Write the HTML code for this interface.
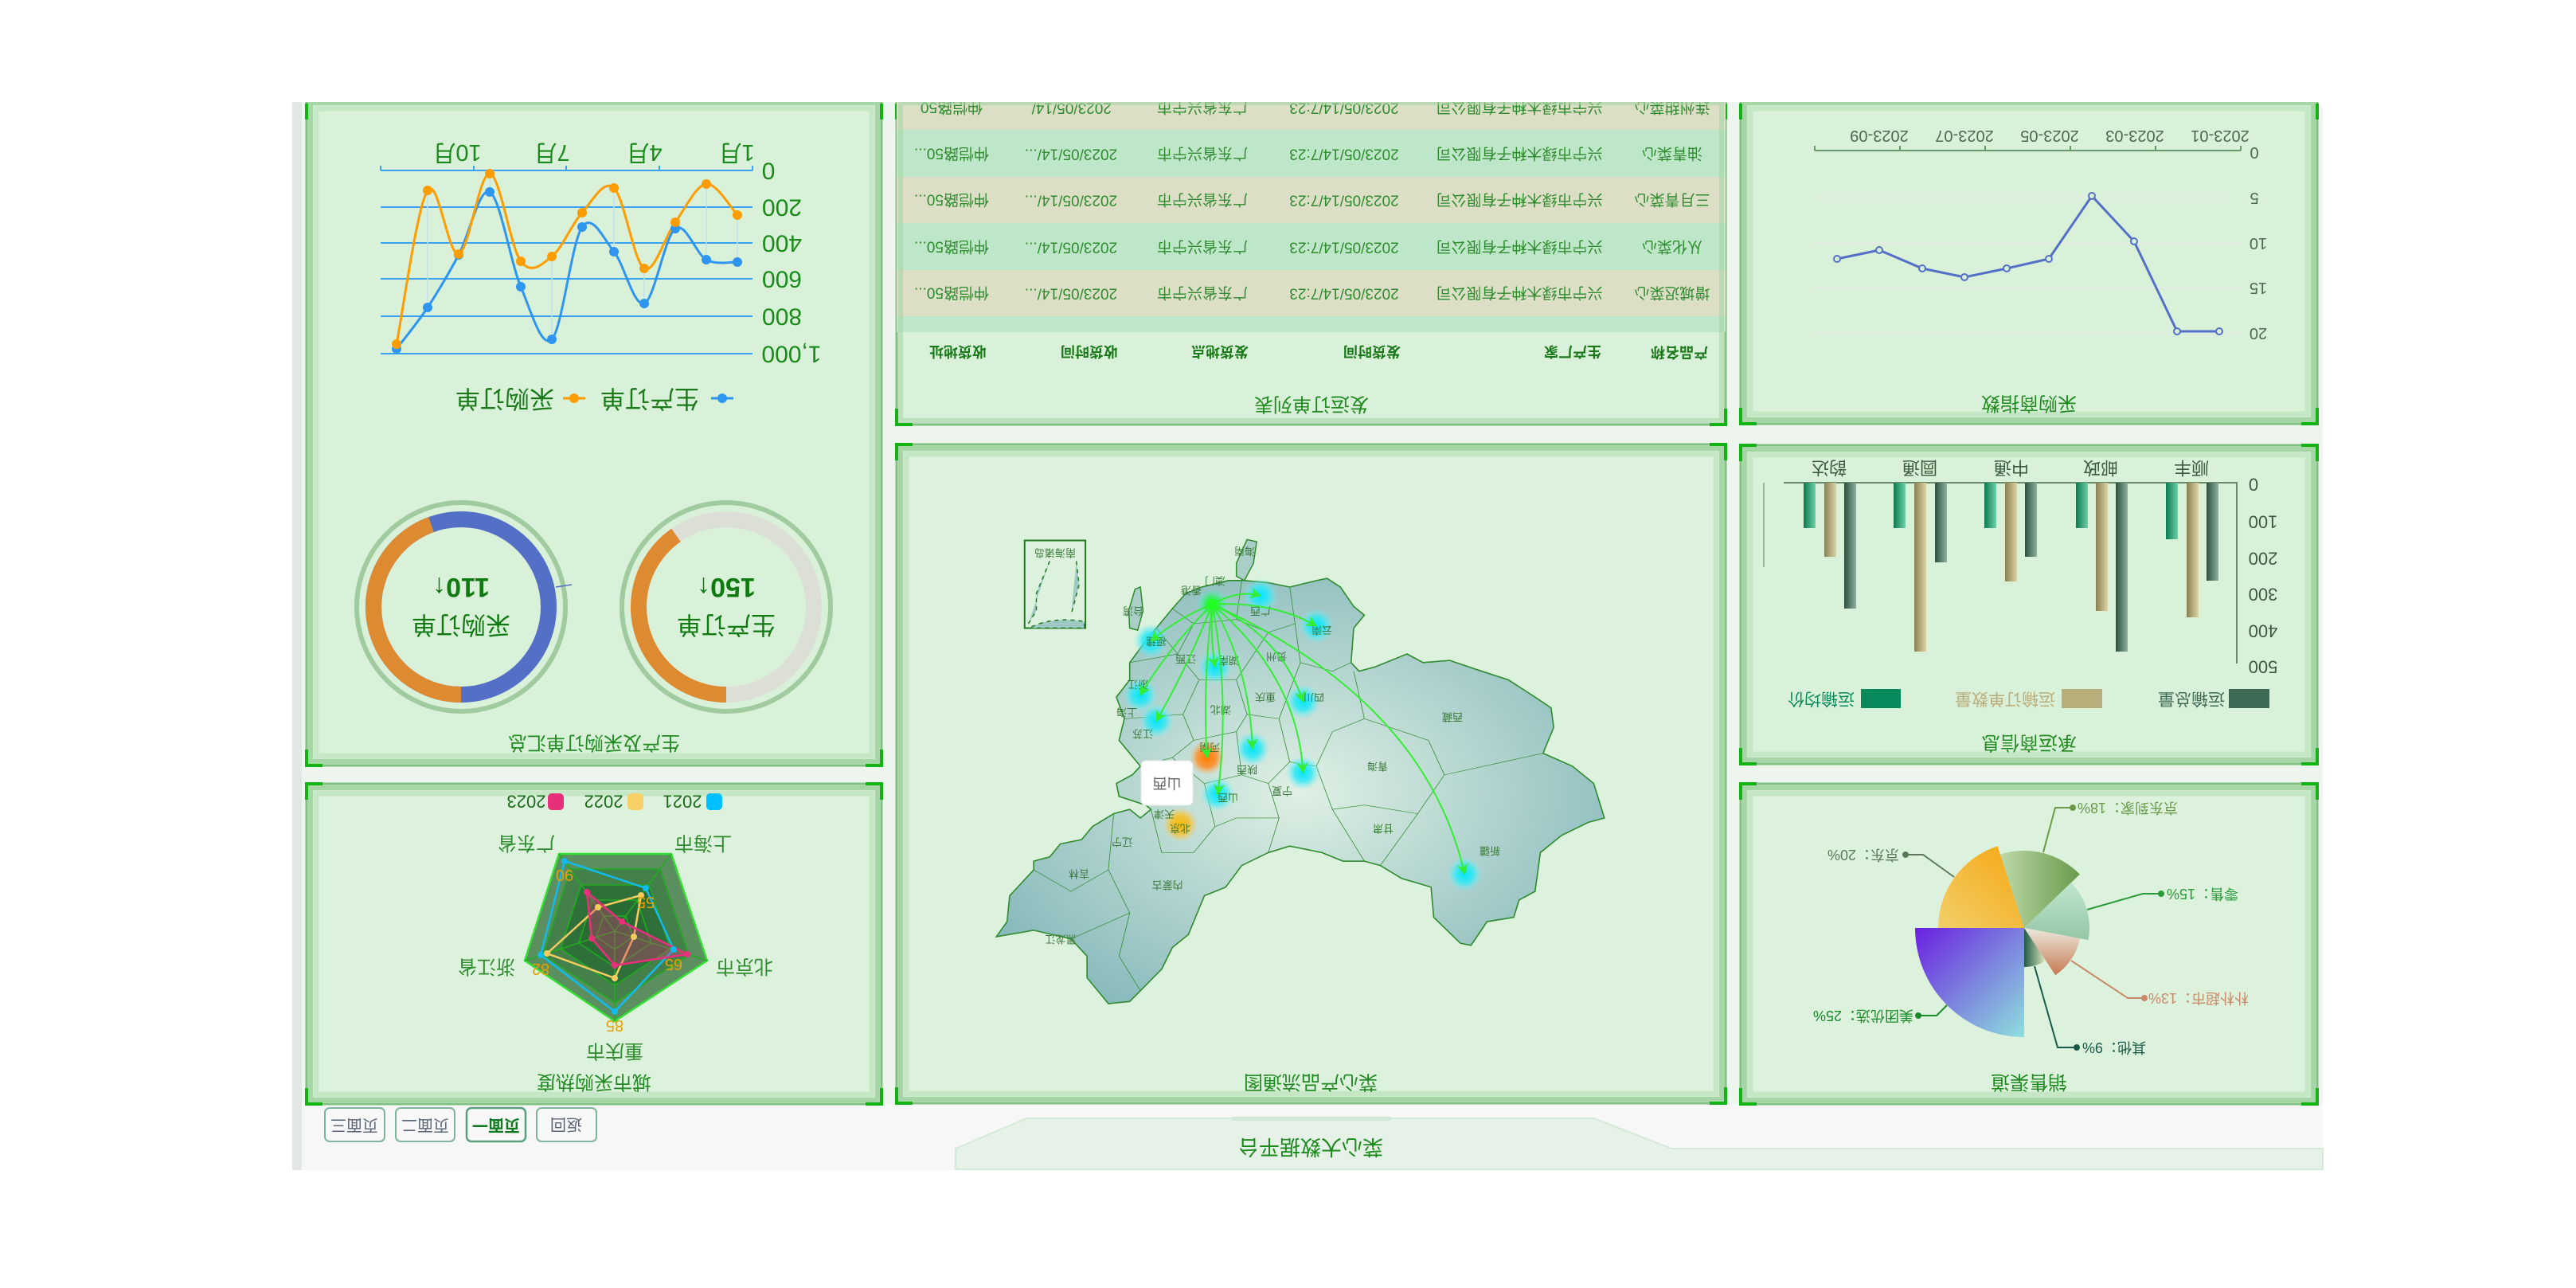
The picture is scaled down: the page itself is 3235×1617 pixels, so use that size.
<!DOCTYPE html>
<html><head><meta charset="utf-8">
<style>
html,body{margin:0;padding:0;background:#fff;}
svg{display:block;}
.t{transform-box:fill-box;transform-origin:center;transform:rotate(180deg);text-anchor:middle;dominant-baseline:central;font-family:"Liberation Sans","Noto Sans CJK SC",sans-serif;}
.tt{font-size:24px;fill:#1f8a1f;}
.tb{font-size:19px;fill:#2e8b2e;}
.th{font-size:18px;fill:#1a7a1a;font-weight:bold;}
.ml{font-size:13px;fill:#3a7a3a;}
</style></head><body>
<svg width="3235" height="1617" viewBox="0 0 3235 1617" xmlns="http://www.w3.org/2000/svg">
<defs>
<radialGradient id="mapg" cx="50%" cy="50%" r="60%"><stop offset="0" stop-color="#e0f0e4"/><stop offset="1" stop-color="#86b9bb"/></radialGradient>
<radialGradient id="glc"><stop offset="0" stop-color="#00e5ff"/><stop offset="0.5" stop-color="#30e8f5" stop-opacity="0.85"/><stop offset="1" stop-color="#7ff0f5" stop-opacity="0"/></radialGradient>
<radialGradient id="glo"><stop offset="0" stop-color="#ff7a00"/><stop offset="0.55" stop-color="#ff8a20" stop-opacity="0.85"/><stop offset="1" stop-color="#ffb060" stop-opacity="0"/></radialGradient>
<radialGradient id="gly"><stop offset="0" stop-color="#f5b800"/><stop offset="0.55" stop-color="#f5c030" stop-opacity="0.85"/><stop offset="1" stop-color="#f5d070" stop-opacity="0"/></radialGradient>
<radialGradient id="glg"><stop offset="0" stop-color="#00ff20"/><stop offset="0.5" stop-color="#30f060" stop-opacity="0.8"/><stop offset="1" stop-color="#60f0f0" stop-opacity="0"/></radialGradient>
<linearGradient id="pmt" x1="0" y1="0" x2="1" y2="1"><stop offset="0" stop-color="#6a1fe0"/><stop offset="1" stop-color="#8ee0de"/></linearGradient>
<linearGradient id="pjd" x1="0" y1="1" x2="1" y2="0"><stop offset="0" stop-color="#f2cf6a"/><stop offset="1" stop-color="#f6a611"/></linearGradient>
<linearGradient id="pdj" x1="0" y1="0" x2="1" y2="0"><stop offset="0" stop-color="#bcd8a6"/><stop offset="1" stop-color="#6a9a4c"/></linearGradient>
<linearGradient id="pls" x1="0" y1="0" x2="0" y2="1"><stop offset="0" stop-color="#bfe6cf"/><stop offset="1" stop-color="#94c7a6"/></linearGradient>
<linearGradient id="ppp" x1="0" y1="0" x2="0" y2="1"><stop offset="0" stop-color="#ece8dc"/><stop offset="1" stop-color="#c67a52"/></linearGradient>
<linearGradient id="pqt" x1="0" y1="0" x2="1" y2="0"><stop offset="0" stop-color="#1f5a46"/><stop offset="1" stop-color="#e4ecc0"/></linearGradient>
<linearGradient id="bt" x1="0" y1="0" x2="1" y2="0"><stop offset="0" stop-color="#0a7a50"/><stop offset="1" stop-color="#6ed0a8"/></linearGradient>
<linearGradient id="bn" x1="0" y1="0" x2="1" y2="0"><stop offset="0" stop-color="#8a8050"/><stop offset="1" stop-color="#dcd4a6"/></linearGradient>
<linearGradient id="bd" x1="0" y1="0" x2="1" y2="0"><stop offset="0" stop-color="#2a5040"/><stop offset="1" stop-color="#90b0a0"/></linearGradient>
<marker id="ar" viewBox="0 0 10 10" refX="9" refY="5" markerWidth="7" markerHeight="7" orient="auto-start-reverse"><path d="M0,0 L10,5 L0,10 L3,5 Z" fill="#33ee33"/></marker>
<clipPath id="cB"><rect x="1126" y="128" width="1041" height="405"/></clipPath>
</defs>

<rect x="367" y="128" width="2550" height="1341" rx="12" fill="#eef4ee"/>
<rect x="367" y="128" width="12" height="1341" fill="#e3e7e4"/>
<rect x="379" y="1386" width="2538" height="83" fill="#f6f7f6"/>
<path d="M1200,1442 L1289,1404 L2002,1404 L2099,1442 L2917,1442 L2917,1468 L1200,1468 Z" fill="#e6f1e8" stroke="#d4ead8" stroke-width="2"/>
<rect x="1547" y="1402" width="200" height="5" fill="#d2e8d6"/>
<text class="t" x="1646" y="1440" style="font-size:26px;fill:#1a8a1a">菜心大数据平台</text>

<g>
<rect x="408" y="1391" width="75" height="42" rx="6" fill="#f7f8f7" stroke="#7fb49c" stroke-width="2"/>
<text class="t" x="445" y="1412" style="font-size:20px;fill:#5a6478">页面三</text>
<rect x="497" y="1391" width="74" height="42" rx="6" fill="#f7f8f7" stroke="#7fb49c" stroke-width="2"/>
<text class="t" x="534" y="1412" style="font-size:20px;fill:#5a6478">页面二</text>
<rect x="586" y="1391" width="74" height="42" rx="6" fill="#f7f8f7" stroke="#5aa07c" stroke-width="2.5"/>
<text class="t" x="623" y="1412" style="font-size:20px;fill:#0f7a1f;font-weight:bold">页面一</text>
<rect x="674" y="1391" width="75" height="42" rx="6" fill="#f7f8f7" stroke="#7fb49c" stroke-width="2"/>
<text class="t" x="711" y="1412" style="font-size:20px;fill:#5a6478">返回</text>
</g>

<g id="panels">
<g>
<rect x="385" y="124" width="722" height="837" fill="#daf1d9" stroke="#80c080" stroke-width="3"/>
<rect x="390" y="129" width="712" height="827" fill="none" stroke="#a6d6a6" stroke-width="6"/>
<rect x="397" y="136" width="698" height="813" fill="none" stroke="#c6e7c5" stroke-width="7"/>
</g>
<g>
<rect x="1126" y="124" width="1041" height="409" fill="#daf1d9" stroke="#80c080" stroke-width="3"/>
</g>
<g>
<rect x="2186" y="124" width="724" height="408" fill="#daf1d9" stroke="#80c080" stroke-width="3"/>
<rect x="2191" y="129" width="714" height="398" fill="none" stroke="#a6d6a6" stroke-width="6"/>
<rect x="2198" y="136" width="700" height="384" fill="none" stroke="#c6e7c5" stroke-width="7"/>
</g>
<g>
<rect x="1126" y="558" width="1041" height="827" fill="#dcf2dc" stroke="#80c080" stroke-width="3"/>
<rect x="1131" y="563" width="1031" height="817" fill="none" stroke="#a6d6a6" stroke-width="6"/>
<rect x="1138" y="570" width="1017" height="803" fill="none" stroke="#c6e7c5" stroke-width="7"/>
</g>
<g>
<rect x="2186" y="559" width="724" height="400" fill="#daf1d9" stroke="#80c080" stroke-width="3"/>
<rect x="2191" y="564" width="714" height="390" fill="none" stroke="#a6d6a6" stroke-width="6"/>
<rect x="2198" y="571" width="700" height="376" fill="none" stroke="#c6e7c5" stroke-width="7"/>
</g>
<g>
<rect x="385" y="984" width="722" height="402" fill="#dcf2dc" stroke="#80c080" stroke-width="3"/>
<rect x="390" y="989" width="712" height="392" fill="none" stroke="#a6d6a6" stroke-width="6"/>
<rect x="397" y="996" width="698" height="378" fill="none" stroke="#c6e7c5" stroke-width="7"/>
</g>
<g>
<rect x="2186" y="984" width="724" height="402" fill="#dcf2dc" stroke="#80c080" stroke-width="3"/>
<rect x="2191" y="989" width="714" height="392" fill="none" stroke="#a6d6a6" stroke-width="6"/>
<rect x="2198" y="996" width="700" height="378" fill="none" stroke="#c6e7c5" stroke-width="7"/>
</g>
</g>
<g stroke="#13b313" stroke-width="4" fill="none">
<path d="M385,150 V130 M1107,150 V130 M385,941 V961 H405 M1107,941 V961 H1087"/>
<path d="M1126,150 V130 M2167,150 V130 M1126,513 V533 H1146 M2167,513 V533 H2147"/>
<path d="M2186,150 V130 M2910,150 V130 M2186,512 V532 H2206 M2910,512 V532 H2890"/>
<path d="M1126,578 V558 H1146 M2167,578 V558 H2147 M1126,1365 V1385 H1146 M2167,1365 V1385 H2147"/>
<path d="M2186,579 V559 H2206 M2910,579 V559 H2890 M2186,939 V959 H2206 M2910,939 V959 H2890"/>
<path d="M385,1004 V984 H405 M1107,1004 V984 H1087 M385,1366 V1386 H405 M1107,1366 V1386 H1087"/>
<path d="M2186,1004 V984 H2206 M2910,1004 V984 H2890 M2186,1366 V1386 H2206 M2910,1366 V1386 H2890"/>
</g>

<!-- P1 -->
<g>
<g stroke="#3aa2f0" stroke-width="2">
<line x1="478" y1="260" x2="945" y2="260"/><line x1="478" y1="305" x2="945" y2="305"/>
<line x1="478" y1="350" x2="945" y2="350"/><line x1="478" y1="397" x2="945" y2="397"/>
<line x1="478" y1="444" x2="945" y2="444"/>
<line x1="478" y1="214" x2="945" y2="214"/>
<path d="M478,214 v-6 M595,214 v-6 M711,214 v-6 M828,214 v-6 M945,214 v-6"/>
</g>
<g stroke="#bfe2f2" stroke-width="1.5">
<line x1="537" y1="239" x2="537" y2="386"/><line x1="615" y1="218" x2="615" y2="241"/>
<line x1="693" y1="322" x2="693" y2="426"/><line x1="771" y1="236" x2="771" y2="316"/>
<line x1="809" y1="337" x2="809" y2="381"/><line x1="887" y1="231" x2="887" y2="326"/>
<line x1="926" y1="270" x2="926" y2="329"/>
</g>
<g style="font-size:29px;fill:#1a8a1a">
<text class="t" x="925" y="191">1月</text><text class="t" x="809" y="191">4月</text>
<text class="t" x="693" y="191">7月</text><text class="t" x="574" y="191">10月</text>
</g>
<g style="font-size:30px;fill:#1a8a1a">
<text class="t" x="965" y="214">0</text><text class="t" x="982" y="260">200</text>
<text class="t" x="982" y="305">400</text><text class="t" x="982" y="350">600</text>
<text class="t" x="982" y="397">800</text><text class="t" x="994" y="444">1,000</text>
</g>
<path id="lb" d="M498,438 L537,386 L576,320 L615,241 L654,360 L693,426 L731,285 L771,316 L809,381 L848,287 L887,326 L926,329" fill="none" stroke="#2e96f0" stroke-width="3"/>
<path id="lo" d="M498,432 L537,239 L576,319 L615,218 L654,328 L693,322 L731,267 L771,236 L809,337 L848,279 L887,231 L926,270" fill="none" stroke="#ff9c00" stroke-width="3"/>
<g fill="#2e96f0">
<circle cx="498" cy="438" r="6"/><circle cx="537" cy="386" r="6"/><circle cx="576" cy="320" r="6"/><circle cx="615" cy="241" r="6"/><circle cx="654" cy="360" r="6"/><circle cx="693" cy="426" r="6"/><circle cx="731" cy="285" r="6"/><circle cx="771" cy="316" r="6"/><circle cx="809" cy="381" r="6"/><circle cx="848" cy="287" r="6"/><circle cx="887" cy="326" r="6"/><circle cx="926" cy="329" r="6"/>
</g>
<g fill="#ff9c00">
<circle cx="498" cy="432" r="6"/><circle cx="537" cy="239" r="6"/><circle cx="576" cy="319" r="6"/><circle cx="615" cy="218" r="6"/><circle cx="654" cy="328" r="6"/><circle cx="693" cy="322" r="6"/><circle cx="731" cy="267" r="6"/><circle cx="771" cy="236" r="6"/><circle cx="809" cy="337" r="6"/><circle cx="848" cy="279" r="6"/><circle cx="887" cy="231" r="6"/><circle cx="926" cy="270" r="6"/>
</g>
<line x1="893" y1="500" x2="921" y2="500" stroke="#2e96f0" stroke-width="3"/><circle cx="907" cy="500" r="6" fill="#2e96f0"/>
<text class="t" x="816" y="500" style="font-size:31px;fill:#1a7a1a">生产订单</text>
<line x1="707" y1="500" x2="735" y2="500" stroke="#ff9c00" stroke-width="3"/><circle cx="721" cy="500" r="6" fill="#ff9c00"/>
<text class="t" x="634" y="500" style="font-size:31px;fill:#1a7a1a">采购订单</text>
<circle cx="579" cy="762" r="131" fill="none" stroke="#9fcb9f" stroke-width="6"/>
<circle cx="579" cy="762" r="110" fill="none" stroke="#5470c6" stroke-width="20"/>
<circle cx="579" cy="762" r="110" fill="none" stroke="#dd8a30" stroke-width="20" stroke-dasharray="307.2 400" transform="rotate(90 579 762)"/>
<text class="t" x="579" y="737" style="font-size:34px;fill:#0f7a0f;font-weight:bold">110↑</text>
<text class="t" x="579" y="784" style="font-size:31px;fill:#0f7a0f">采购订单</text>
<line x1="698" y1="737" x2="718" y2="734" stroke="#5470c6" stroke-width="1.5"/>
<circle cx="912" cy="762" r="131" fill="none" stroke="#9fcb9f" stroke-width="6"/>
<circle cx="912" cy="762" r="110" fill="none" stroke="#dcdfd6" stroke-width="20"/>
<circle cx="912" cy="762" r="110" fill="none" stroke="#dd8a30" stroke-width="20" stroke-dasharray="278.4 420" transform="rotate(90 912 762)"/>
<text class="t" x="912" y="737" style="font-size:34px;fill:#0f7a0f;font-weight:bold">150↑</text>
<text class="t" x="912" y="784" style="font-size:31px;fill:#0f7a0f">生产订单</text>
<text class="t tt" x="746" y="932">生产及采购订单汇总</text>
</g>

<!-- P2 table -->
<g clip-path="url(#cB)">
<rect x="1126" y="124" width="1041" height="39" fill="#dcdfc6"/>
<rect x="1126" y="163" width="1041" height="59" fill="#bde7c8"/>
<rect x="1126" y="222" width="1041" height="58" fill="#dcdfc6"/>
<rect x="1126" y="280" width="1041" height="59" fill="#bde7c8"/>
<rect x="1126" y="339" width="1041" height="58" fill="#dcdfc6"/>
<rect x="1126" y="397" width="1041" height="20" fill="#bde7c8"/>
<text class="t tb" x="1195" y="135">仲恺路50</text><text class="t tb" x="1345" y="135">2023/05/14/</text><text class="t tb" x="1510" y="135">广东省兴宁市</text><text class="t tb" x="1688" y="135">2023/05/14/7:23</text><text class="t tb" x="1908" y="135">兴宁市绿木种子有限公司</text><text class="t tb" x="2100" y="135">连州甜菜心</text>
<text class="t tb" x="1195" y="193">仲恺路50...</text><text class="t tb" x="1345" y="193">2023/05/14/...</text><text class="t tb" x="1510" y="193">广东省兴宁市</text><text class="t tb" x="1688" y="193">2023/05/14/7:23</text><text class="t tb" x="1908" y="193">兴宁市绿木种子有限公司</text><text class="t tb" x="2100" y="193">油青菜心</text>
<text class="t tb" x="1195" y="251">仲恺路50...</text><text class="t tb" x="1345" y="251">2023/05/14/...</text><text class="t tb" x="1510" y="251">广东省兴宁市</text><text class="t tb" x="1688" y="251">2023/05/14/7:23</text><text class="t tb" x="1908" y="251">兴宁市绿木种子有限公司</text><text class="t tb" x="2100" y="251">三月青菜心</text>
<text class="t tb" x="1195" y="310">仲恺路50...</text><text class="t tb" x="1345" y="310">2023/05/14/...</text><text class="t tb" x="1510" y="310">广东省兴宁市</text><text class="t tb" x="1688" y="310">2023/05/14/7:23</text><text class="t tb" x="1908" y="310">兴宁市绿木种子有限公司</text><text class="t tb" x="2100" y="310">从化菜心</text>
<text class="t tb" x="1195" y="368">仲恺路50...</text><text class="t tb" x="1345" y="368">2023/05/14/...</text><text class="t tb" x="1510" y="368">广东省兴宁市</text><text class="t tb" x="1688" y="368">2023/05/14/7:23</text><text class="t tb" x="1908" y="368">兴宁市绿木种子有限公司</text><text class="t tb" x="2100" y="368">增城迟菜心</text>
</g>
<rect x="1131" y="129" width="1031" height="399" fill="none" stroke="#a6d6a6" stroke-width="6" opacity="0.6"/>
<text class="t th" x="1203" y="442">收货地址</text><text class="t th" x="1368" y="442">收货时间</text><text class="t th" x="1532" y="442">发货地点</text><text class="t th" x="1723" y="442">发货时间</text><text class="t th" x="1975" y="442">生产厂家</text><text class="t th" x="2109" y="442">产品名称</text>
<text class="t tt" x="1647" y="507">发运订单列表</text>

<!-- P3 -->
<g>
<g stroke="#e4ece4" stroke-width="2">
<line x1="2279" y1="248" x2="2814" y2="248"/><line x1="2279" y1="305" x2="2814" y2="305"/>
<line x1="2279" y1="361" x2="2814" y2="361"/><line x1="2279" y1="418" x2="2814" y2="418"/>
</g>
<path d="M2279,189 H2814 M2279,189 v-6 M2386,189 v-6 M2493,189 v-6 M2600,189 v-6 M2707,189 v-6 M2814,189 v-6" stroke="#6a9a6a" stroke-width="2" fill="none"/>
<g style="font-size:20px;fill:#4a6a4a">
<text class="t" x="2788" y="170">2023-01</text><text class="t" x="2681" y="170">2023-03</text><text class="t" x="2574" y="170">2023-05</text><text class="t" x="2467" y="170">2023-07</text><text class="t" x="2360" y="170">2023-09</text>
<text class="t" x="2831" y="191">0</text><text class="t" x="2831" y="248">5</text><text class="t" x="2836" y="305">10</text><text class="t" x="2836" y="361">15</text><text class="t" x="2836" y="418">20</text>
</g>
<polyline points="2787,416 2734,416 2680,303 2627,246 2573,325 2520,337 2467,348 2414,337 2360,314 2307,325" fill="none" stroke="#5470c6" stroke-width="3"/>
<g fill="#daf1d9" stroke="#5470c6" stroke-width="2">
<circle cx="2787" cy="416" r="4"/><circle cx="2734" cy="416" r="4"/><circle cx="2680" cy="303" r="4"/><circle cx="2627" cy="246" r="4"/><circle cx="2573" cy="325" r="4"/><circle cx="2520" cy="337" r="4"/><circle cx="2467" cy="348" r="4"/><circle cx="2414" cy="337" r="4"/><circle cx="2360" cy="314" r="4"/><circle cx="2307" cy="325" r="4"/>
</g>
<text class="t tt" x="2548" y="506">采购商指数</text>
</g>

<!-- P4 -->
<g>
<path d="M2240,606 H2809 V833" stroke="#6a8a6a" stroke-width="2" fill="none"/>
<line x1="2215" y1="606" x2="2215" y2="712" stroke="#8aa08a" stroke-width="1.5"/>
<g style="font-size:22px;fill:#3a5a3a">
<text class="t" x="2830" y="608">0</text><text class="t" x="2842" y="655">100</text><text class="t" x="2842" y="701">200</text><text class="t" x="2842" y="746">300</text><text class="t" x="2842" y="792">400</text><text class="t" x="2842" y="837">500</text>
<text class="t" x="2752" y="587">顺丰</text><text class="t" x="2638" y="587">邮政</text><text class="t" x="2526" y="587">中通</text><text class="t" x="2411" y="587">圆通</text><text class="t" x="2297" y="587">韵达</text>
</g>
<g>
<rect x="2720" y="606" width="15" height="71" fill="url(#bt)"/><rect x="2746" y="606" width="15" height="169" fill="url(#bn)"/><rect x="2771" y="606" width="15" height="123" fill="url(#bd)"/>
<rect x="2607" y="606" width="15" height="57" fill="url(#bt)"/><rect x="2632" y="606" width="15" height="161" fill="url(#bn)"/><rect x="2657" y="606" width="15" height="212" fill="url(#bd)"/>
<rect x="2492" y="606" width="15" height="57" fill="url(#bt)"/><rect x="2518" y="606" width="15" height="124" fill="url(#bn)"/><rect x="2543" y="606" width="15" height="93" fill="url(#bd)"/>
<rect x="2378" y="606" width="15" height="57" fill="url(#bt)"/><rect x="2404" y="606" width="15" height="212" fill="url(#bn)"/><rect x="2430" y="606" width="15" height="100" fill="url(#bd)"/>
<rect x="2265" y="606" width="15" height="57" fill="url(#bt)"/><rect x="2291" y="606" width="15" height="93" fill="url(#bn)"/><rect x="2316" y="606" width="15" height="158" fill="url(#bd)"/>
</g>
<rect x="2799" y="865" width="51" height="24" fill="#3d6a55"/>
<text class="t" x="2752" y="877" style="font-size:21px;fill:#3d6a55">运输总量</text>
<rect x="2589" y="865" width="51" height="24" fill="#b8ae7c"/>
<text class="t" x="2518" y="877" style="font-size:21px;fill:#b8ae7c">运输订单数量</text>
<rect x="2337" y="865" width="50" height="24" fill="#088a5c"/>
<text class="t" x="2287" y="877" style="font-size:21px;fill:#088a5c">运输均价</text>
<text class="t tt" x="2548" y="932">承运商信息</text>
</g>

<!-- Map -->
<g transform="translate(1124,550) scale(0.6698,0.542)">
<path d="M520,395 L545,360 L575,345 L625,330 L655,330 L700,335 L740,345 L790,330 L810,325 L835,345 L860,390 L880,410 L860,440 L855,520 L870,540 L900,530 L960,500 L990,520 L1040,515 L1100,540 L1150,560 L1200,600 L1230,625 L1235,670 L1215,730 L1270,760 L1310,800 L1330,880 L1300,890 L1250,920 L1210,960 L1200,1050 L1170,1070 L1160,1110 L1110,1120 L1080,1175 L1060,1170 L1010,1110 L1005,1040 L950,1020 L910,990 L880,980 L840,980 L800,960 L740,945 L700,960 L650,990 L620,1040 L580,1060 L550,1150 L520,1180 L500,1230 L460,1280 L440,1305 L400,1310 L360,1250 L360,1200 L330,1160 L260,1140 L190,1155 L210,1120 L215,1060 L260,1000 L260,980 L290,970 L310,940 L350,930 L370,900 L410,870 L440,860 L460,880 L480,860 L470,850 L420,830 L415,800 L445,780 L460,760 L420,700 L430,650 L415,600 L440,560 L440,520 L470,470 L490,440 Z" fill="url(#mapg)" stroke="#2e8b2e" stroke-width="1.6" vector-effect="non-scaling-stroke"/>
<path d="M640,290 L660,235 L678,240 L672,290 L655,330 L640,320 Z" fill="#a9cfc8" stroke="#2e8b2e" stroke-width="1.5" vector-effect="non-scaling-stroke"/>
<path d="M440,440 L438,400 L450,350 L460,345 L465,400 L455,445 Z" fill="#a9cfc8" stroke="#2e8b2e" stroke-width="1.5" vector-effect="non-scaling-stroke"/>
<g fill="none" stroke="#2e8b2e" stroke-width="1.2" vector-effect="non-scaling-stroke">
<path d="M860,540 L880,650 L1000,700 L1030,780 L1215,730"/>
<path d="M880,650 L820,680 L790,760 L820,860 L880,850 L980,870 L1030,780"/>
<path d="M980,870 L910,990"/>
<path d="M820,860 L840,900 L880,980"/>
<path d="M790,760 L740,750 L700,800 L720,880 L700,960"/>
<path d="M740,345 L750,430 L760,520 L820,540 L855,520"/>
<path d="M650,330 L640,420 L700,450 L750,430"/>
<path d="M520,395 L560,430 L640,420"/>
<path d="M490,440 L530,500 L560,430"/>
<path d="M440,520 L530,500 L570,560 L640,560 L700,450"/>
<path d="M640,560 L660,640 L720,650 L760,520"/>
<path d="M720,650 L740,750"/>
<path d="M430,650 L540,640 L570,560"/>
<path d="M540,640 L560,700 L640,680 L660,640"/>
<path d="M560,700 L520,740 L460,760"/>
<path d="M640,680 L650,780 L700,800"/>
<path d="M520,740 L580,800 L650,780"/>
<path d="M580,800 L600,900 L640,880 L720,880"/>
<path d="M600,900 L560,960 L500,960 L480,860"/>
<path d="M410,870 L400,1000 L440,1100 L330,1160"/>
<path d="M260,1000 L330,1050 L400,1000"/>
<path d="M440,1100 L420,1200 L460,1280"/>
</g>
<rect x="243" y="237" width="114" height="203" fill="none" stroke="#1f7a1f" stroke-width="2" vector-effect="non-scaling-stroke"/>
<path d="M290,285 L265,360 L265,400 L250,430 M340,285 L345,340 L330,410 M270,430 Q310,415 355,425 L355,440 L250,440 Z" fill="#9fc7c4" stroke="#1f7a1f" stroke-width="1.5" stroke-dasharray="5 5" vector-effect="non-scaling-stroke"/>
</g>
<text class="t ml" x="1325" y="694">南海诸岛</text>
<g>
<circle cx="1582.8" cy="747.8" r="22" fill="url(#glc)"/><circle cx="1653.1" cy="785.8" r="22" fill="url(#glc)"/>
<circle cx="1445.5" cy="804.7" r="22" fill="url(#glc)"/><circle cx="1525.9" cy="837.3" r="22" fill="url(#glc)"/>
<circle cx="1432.1" cy="872.5" r="22" fill="url(#glc)"/><circle cx="1452.2" cy="905" r="22" fill="url(#glc)"/>
<circle cx="1636.4" cy="880.6" r="22" fill="url(#glc)"/><circle cx="1572.8" cy="940.2" r="22" fill="url(#glc)"/>
<circle cx="1636.4" cy="970" r="22" fill="url(#glc)"/><circle cx="1529.2" cy="997.2" r="22" fill="url(#glc)"/>
<circle cx="1839.3" cy="1097.4" r="22" fill="url(#glc)"/>
<circle cx="1515.8" cy="951.1" r="22" fill="url(#glo)"/>
<circle cx="1482.3" cy="1035.1" r="22" fill="url(#gly)"/>
<circle cx="1522.5" cy="758.7" r="20" fill="url(#glg)"/>
</g>
<g>
<text class="t ml" x="1824" y="900">西藏</text><text class="t ml" x="1730" y="962">青海</text><text class="t ml" x="1871" y="1068">新疆</text>
<text class="t ml" x="1737" y="1040">甘肃</text><text class="t ml" x="1466" y="1111">内蒙古</text><text class="t ml" x="1332" y="1179">黑龙江</text>
<text class="t ml" x="1355" y="1097">吉林</text><text class="t ml" x="1409" y="1057">辽宁</text><text class="t ml" x="1650" y="875">四川</text>
<text class="t ml" x="1660" y="791">云南</text><text class="t ml" x="1583" y="767">广西</text><text class="t ml" x="1563" y="692">海南</text>
<text class="t ml" x="1423" y="767">台湾</text><text class="t ml" x="1452" y="805">福建</text><text class="t ml" x="1543" y="829">湖南</text>
<text class="t ml" x="1489" y="827">江西</text><text class="t ml" x="1603" y="824">贵州</text><text class="t ml" x="1533" y="891">湖北</text>
<text class="t ml" x="1589" y="875">重庆</text><text class="t ml" x="1429" y="859">浙江</text><text class="t ml" x="1415" y="894">上海</text>
<text class="t ml" x="1435" y="921">江苏</text><text class="t ml" x="1519" y="938">河南</text><text class="t ml" x="1566" y="966">陕西</text>
<text class="t ml" x="1610" y="993">宁夏</text><text class="t ml" x="1462" y="1022">天津</text><text class="t ml" x="1526" y="729">澳门</text>
<text class="t ml" x="1496" y="741">香港</text><text class="t ml" x="1542" y="1001">山西</text><text class="t ml" x="1482" y="1040">北京</text>
</g>
<g fill="none" stroke="#33ee33" stroke-width="2" marker-end="url(#ar)">
<path d="M1522.5,758.7 Q1555,740 1582.8,747.8"/>
<path d="M1522.5,758.7 Q1600,755 1653.1,785.8"/>
<path d="M1522.5,758.7 Q1480,775 1445.5,804.7"/>
<path d="M1522.5,758.7 Q1520,800 1525.9,837.3"/>
<path d="M1522.5,758.7 Q1470,810 1432.1,872.5"/>
<path d="M1522.5,758.7 Q1490,840 1452.2,905"/>
<path d="M1522.5,758.7 Q1610,800 1636.4,880.6"/>
<path d="M1522.5,758.7 Q1570,840 1572.8,940.2"/>
<path d="M1522.5,758.7 Q1630,850 1636.4,970"/>
<path d="M1522.5,758.7 Q1545,880 1529.2,997.2"/>
<path d="M1522.5,758.7 Q1510,860 1515.8,951.1"/>
<path d="M1522.5,758.7 Q1790,880 1839.3,1097.4"/>
</g>
<circle cx="1522.5" cy="758.7" r="7" fill="#22ff22"/>
<rect x="1433" y="955" width="65" height="56" rx="6" fill="#fff" stroke="#e8e8e8"/>
<text class="t" x="1465.5" y="983" style="font-size:18px;fill:#666">山西</text>
<text class="t tt" x="1646" y="1358">菜心产品流通图</text>

<!-- Radar -->
<g>
<polygon points="772,1282 888,1206 843,1072 702,1072 659,1206" fill="#5b8f5f" stroke="#33e033" stroke-width="2.5"/>
<polygon points="772,1259 865,1199 829,1091 716,1091 682,1199" fill="#44804a" stroke="#1fae1f" stroke-width="1.5"/>
<polygon points="772,1237 842,1191 815,1111 730,1111 704,1191" fill="#2f6f3a" stroke="#1fae1f" stroke-width="1.5"/>
<polygon points="772,1214 818,1184 800,1130 744,1130 727,1184" fill="#2a6a35" stroke="#1fae1f" stroke-width="1.5"/>
<polygon points="772,1192 795,1176 786,1150 758,1150 749,1176" fill="#2a6a35" stroke="#1fae1f" stroke-width="1.5"/>
<path d="M772,1169 L772,1282 M772,1169 L888,1206 M772,1169 L843,1072 M772,1169 L702,1072 M772,1169 L659,1206" stroke="#1fae1f" stroke-width="1.5"/>
<polygon points="772,1270 846,1192 811,1115 709,1081 679,1199" fill="none" stroke="#11bbee" stroke-width="2.5"/>
<polygon points="772,1228 796,1176 805,1124 751,1139 687,1197" fill="none" stroke="#f5cc60" stroke-width="2.5"/>
<polygon points="772,1212 863,1198 781,1157 737,1120 743,1178" fill="#e0307a" fill-opacity="0.35" stroke="#e8307a" stroke-width="2.5"/>
<g fill="#11bbee"><circle cx="772" cy="1270" r="4"/><circle cx="846" cy="1192" r="4"/><circle cx="811" cy="1115" r="4"/><circle cx="709" cy="1081" r="4"/><circle cx="679" cy="1199" r="4"/></g>
<g fill="#f5cc60"><circle cx="772" cy="1228" r="4"/><circle cx="796" cy="1176" r="4"/><circle cx="805" cy="1124" r="4"/><circle cx="751" cy="1139" r="4"/><circle cx="687" cy="1197" r="4"/></g>
<g fill="#e8307a"><circle cx="772" cy="1212" r="4"/><circle cx="863" cy="1198" r="4"/><circle cx="781" cy="1157" r="4"/><circle cx="737" cy="1120" r="4"/><circle cx="743" cy="1178" r="4"/></g>
<g style="font-size:20px;fill:#e8a000">
<text class="t" x="772" y="1287">85</text><text class="t" x="846" y="1210">65</text><text class="t" x="811" y="1132">55</text><text class="t" x="709" y="1098">90</text><text class="t" x="679" y="1216">82</text>
</g>
<g style="font-size:24px;fill:#2e8b2e">
<text class="t" x="772" y="1319">重庆市</text><text class="t" x="935" y="1213">北京市</text><text class="t" x="883" y="1058">上海市</text><text class="t" x="661" y="1058">广东省</text><text class="t" x="611" y="1213">浙江省</text>
</g>
<rect x="887" y="996" width="20" height="21" rx="5" fill="#00c0ff"/>
<text class="t" x="857" y="1006" style="font-size:22px;fill:#1a6a1a">2021</text>
<rect x="788" y="996" width="20" height="21" rx="5" fill="#f8d068"/>
<text class="t" x="758" y="1006" style="font-size:22px;fill:#1a6a1a">2022</text>
<rect x="688" y="996" width="20" height="21" rx="5" fill="#e8307a"/>
<text class="t" x="661" y="1006" style="font-size:22px;fill:#1a6a1a">2023</text>
<text class="t tt" x="746" y="1358">城市采购热度</text>
</g>

<!-- Pie -->
<g>
<path d="M2542,1165 L2542,1302 A137,137 0 0 1 2405,1165 Z" fill="url(#pmt)"/>
<path d="M2542,1165 L2434,1165 A108,108 0 0 1 2508.6,1062.3 Z" fill="url(#pjd)"/>
<path d="M2542,1165 L2512,1072.7 A97,97 0 0 1 2611.8,1097.6 Z" fill="url(#pdj)"/>
<path d="M2542,1165 L2601,1108 A82,82 0 0 1 2622.6,1180.1 Z" fill="url(#pls)"/>
<path d="M2542,1165 L2611.8,1178.1 A71,71 0 0 1 2581.2,1224.2 Z" fill="url(#ppp)"/>
<path d="M2542,1165 L2569,1205.9 A49,49 0 0 1 2542,1214 Z" fill="url(#pqt)"/>
<g fill="none" stroke-width="2">
<path d="M2566,1070 L2581,1014 L2603,1014" stroke="#6a9a4a"/>
<path d="M2621,1142 L2691,1122 L2714,1122" stroke="#2a9a3a"/>
<path d="M2601,1206 L2672,1253 L2693,1253" stroke="#c88a6a"/>
<path d="M2555,1213 L2584,1315 L2608,1315" stroke="#1a5a4a"/>
<path d="M2445,1262 L2432,1275 L2409,1275" stroke="#1a8a2a"/>
<path d="M2454,1101 L2415,1073 L2393,1073" stroke="#5a7a5a"/>
</g>
<circle cx="2603" cy="1014" r="4" fill="#6a9a4a"/><circle cx="2714" cy="1122" r="4" fill="#2a9a3a"/>
<circle cx="2693" cy="1253" r="4" fill="#c88a6a"/><circle cx="2608" cy="1315" r="4" fill="#1a5a4a"/>
<circle cx="2409" cy="1275" r="4" fill="#1a8a2a"/><circle cx="2393" cy="1073" r="4" fill="#5a7a5a"/>
<text class="t" x="2672" y="1014" style="font-size:18px;fill:#6a9a4a">京东到家：18%</text>
<text class="t" x="2766" y="1122" style="font-size:18px;fill:#2a9a3a">零售：15%</text>
<text class="t" x="2761" y="1253" style="font-size:18px;fill:#c88a6a">朴朴超市：13%</text>
<text class="t" x="2655" y="1315" style="font-size:18px;fill:#1a5a4a">其他：9%</text>
<text class="t" x="2340" y="1275" style="font-size:18px;fill:#1a8a2a">美团优选：25%</text>
<text class="t" x="2340" y="1073" style="font-size:18px;fill:#5a7a5a">京东：20%</text>
<text class="t tt" x="2548" y="1358">销售渠道</text>
</g>

<rect x="0" y="0" width="3235" height="128" fill="#fff"/>
</svg>
<script>
(function(){
function smooth(xs,ys){var d="M"+xs[0]+","+ys[0];for(var i=0;i<xs.length-1;i++){var x0=xs[Math.max(i-1,0)],y0=ys[Math.max(i-1,0)],x1=xs[i],y1=ys[i],x2=xs[i+1],y2=ys[i+1],x3=xs[Math.min(i+2,xs.length-1)],y3=ys[Math.min(i+2,xs.length-1)];var c1x=x1+(x2-x0)/6,c1y=y1+(y2-y0)/6,c2x=x2-(x3-x1)/6,c2y=y2-(y3-y1)/6;d+=" C"+c1x+","+c1y+" "+c2x+","+c2y+" "+x2+","+y2;}return d;}
var xs=[498,537,576,615,654,693,731,771,809,848,887,926];
document.getElementById("lb").setAttribute("d",smooth(xs,[438,386,320,241,360,426,285,316,381,287,326,329]));
document.getElementById("lo").setAttribute("d",smooth(xs,[432,239,319,218,328,322,267,236,337,279,231,270]));
})();
</script>
</body></html>
